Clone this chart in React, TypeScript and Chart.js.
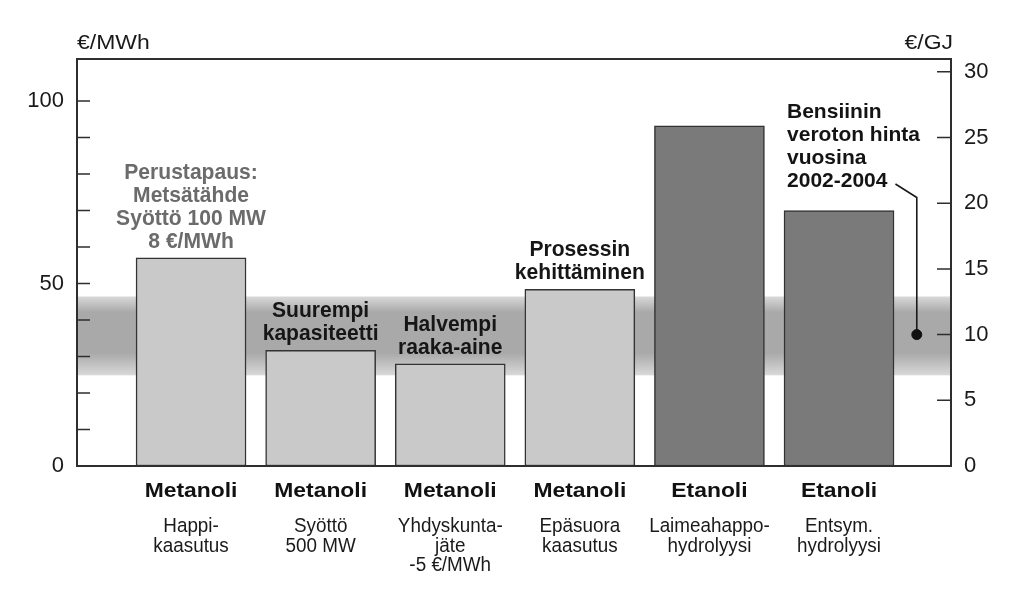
import { useEffect, useRef } from 'react';
import { Chart, registerables } from 'chart.js';

Chart.register(...registerables);

// ---- data ----
const fuels = ['Metanoli', 'Metanoli', 'Metanoli', 'Metanoli', 'Etanoli', 'Etanoli'];
const processes = [
  ['Happi-', 'kaasutus'],
  ['Syöttö', '500 MW'],
  ['Yhdyskunta-', 'jäte', '-5 €/MWh'],
  ['Epäsuora', 'kaasutus'],
  ['Laimeahappo-', 'hydrolyysi'],
  ['Entsym.', 'hydrolyysi'],
];
const costsMWh = [57, 31.7, 28, 48.4, 93.2, 70];
const barNotes = [
  ['Perustapaus:', 'Metsätähde', 'Syöttö 100 MW', '8 €/MWh'],
  ['Suurempi', 'kapasiteetti'],
  ['Halvempi', 'raaka-aine'],
  ['Prosessin', 'kehittäminen'],
  [],
  [],
];
const baseCaseIndex = 0;
const gasolineNote = ['Bensiinin', 'veroton hinta', 'vuosina', '2002-2004'];
const gasolinePriceGJ = 10;
const gasolineSlot = 5.6;
const gasolineBandGJ = [6.9, 12.9];
const gasolineCoreGJ = [8.6, 11.7];
const leftTickValues = [0, 10, 20, 30, 40, 50, 60, 70, 80, 90, 100];
const leftTickLabels = [0, 50, 100];
const rightTickValues = [0, 5, 10, 15, 20, 25, 30];
const leftMax = 111.5;
const mwhPerGJ = 3.6;
const leftTitle = '€/MWh';
const rightTitle = '€/GJ';

const FONT = '"Liberation Sans", Arial, Helvetica, sans-serif';

function drawText(
  ctx: CanvasRenderingContext2D,
  text: string,
  x: number,
  y: number,
  align: CanvasTextAlign,
  font: string,
  color: string,
  sx = 1
): number {
  ctx.save();
  ctx.font = font;
  ctx.fillStyle = color;
  ctx.textAlign = align;
  ctx.textBaseline = 'alphabetic';
  ctx.translate(x, y);
  ctx.scale(sx, 1);
  ctx.fillText(text, 0, 0);
  const w = ctx.measureText(text).width * sx;
  ctx.restore();
  return w;
}

const decorPlugin = {
  id: 'decor',
  beforeDatasetsDraw(chart: any) {
    const { ctx, chartArea: a, scales } = chart;
    const yR = scales.yR;
    const x = scales.x;
    const y = scales.y;
    // gasoline price band
    const top = yR.getPixelForValue(gasolineBandGJ[1]);
    const bot = yR.getPixelForValue(gasolineBandGJ[0]);
    const c1 = yR.getPixelForValue(gasolineCoreGJ[1]);
    const c2 = yR.getPixelForValue(gasolineCoreGJ[0]);
    const g = ctx.createLinearGradient(0, top, 0, bot);
    g.addColorStop(0, '#d9d9d9');
    g.addColorStop((c1 - top) / (bot - top), '#a9a9a9');
    g.addColorStop((c2 - top) / (bot - top), '#a9a9a9');
    g.addColorStop(1, '#d9d9d9');
    ctx.save();
    ctx.fillStyle = g;
    ctx.fillRect(a.left, top, a.right - a.left, bot - top);
    ctx.restore();

    // gasoline note text + leader line
    const last = fuels.length - 1;
    const barLeft = x.getPixelForValue(last) - 55;
    const lastBase = y.getPixelForValue(costsMWh[last]) - 23;
    const n = gasolineNote.length;
    let endX = barLeft;
    gasolineNote.forEach((t, k) => {
      const w = drawText(ctx, t, barLeft + 3, lastBase - (n - 1 - k) * 23.3, 'left', `bold 21px ${FONT}`, '#141414');
      if (k === n - 1) endX = barLeft + 3 + w;
    });
    const px = x.getPixelForValue(gasolineSlot);
    const py = yR.getPixelForValue(gasolinePriceGJ);
    ctx.save();
    ctx.strokeStyle = '#1a1a1a';
    ctx.lineWidth = 1.6;
    ctx.beginPath();
    ctx.moveTo(endX + 8, lastBase - 3.5);
    ctx.lineTo(px, lastBase + 10);
    ctx.lineTo(px, py);
    ctx.stroke();
    ctx.restore();
  },
  afterDatasetsDraw(chart: any) {
    const { ctx, chartArea: a, scales } = chart;
    const x = scales.x;
    const y = scales.y;
    const yR = scales.yR;
    ctx.save();
    ctx.strokeStyle = '#2e2e2e';
    ctx.lineWidth = 2;
    ctx.strokeRect(a.left, a.top, a.right - a.left, a.bottom - a.top);
    ctx.lineWidth = 1.5;
    ctx.beginPath();
    leftTickValues.forEach((v) => {
      const p = y.getPixelForValue(v);
      ctx.moveTo(a.left, p);
      ctx.lineTo(a.left + 13, p);
    });
    rightTickValues.forEach((v) => {
      const p = yR.getPixelForValue(v);
      ctx.moveTo(a.right - 14, p);
      ctx.lineTo(a.right, p);
    });
    ctx.stroke();
    ctx.restore();

    // axis titles
    drawText(ctx, leftTitle, a.left, a.top - 10, 'left', `20.5px ${FONT}`, '#1a1a1a', 1.12);
    drawText(ctx, rightTitle, a.right + 2, a.top - 10, 'right', `20.5px ${FONT}`, '#1a1a1a', 1.12);

    // notes above bars
    barNotes.forEach((lines, i) => {
      if (!lines.length) return;
      const cx = x.getPixelForValue(i);
      const base = y.getPixelForValue(costsMWh[i]) - 10;
      const color = i === baseCaseIndex ? '#6b6b6b' : '#161616';
      lines.forEach((t, k) => {
        drawText(ctx, t, cx, base - (lines.length - 1 - k) * 23, 'center', `bold 21.5px ${FONT}`, color, 0.98);
      });
    });

    // category labels
    fuels.forEach((f, i) => {
      const cx = x.getPixelForValue(i);
      drawText(ctx, f, cx, a.bottom + 31, 'center', `bold 21px ${FONT}`, '#111111', 1.09);
      processes[i].forEach((t, k) => {
        drawText(ctx, t, cx, a.bottom + 66 + k * 19.5, 'center', `20.5px ${FONT}`, '#1a1a1a', 0.92);
      });
    });
  },
};

export default function App() {
  const ref = useRef<HTMLCanvasElement | null>(null);

  useEffect(() => {
    if (!ref.current) return;
    const chart = new Chart(ref.current, {
      type: 'bar',
      data: {
        datasets: [
          {
            type: 'bar',
            data: costsMWh.map((v, i) => ({ x: i, y: v })),
            backgroundColor: fuels.map((f) => (f === 'Etanoli' ? '#7a7a7a' : '#c9c9c9')),
            borderColor: '#333333',
            borderWidth: 1.5,
            borderSkipped: false,
            barThickness: 110,
            xAxisID: 'x',
            yAxisID: 'y',
            order: 2,
          } as any,
          {
            type: 'scatter',
            data: [{ x: gasolineSlot, y: gasolinePriceGJ }],
            backgroundColor: '#111111',
            borderColor: '#111111',
            pointRadius: 5,
            xAxisID: 'x',
            yAxisID: 'yR',
            order: 1,
          } as any,
        ],
      },
      options: {
        responsive: false,
        animation: false,
        layout: { padding: { top: 59, left: 0, right: 0, bottom: 0 } },
        plugins: { legend: { display: false }, tooltip: { enabled: false } },
        scales: {
          x: {
            type: 'linear',
            min: -0.88,
            max: 5.864,
            offset: false,
            grid: { display: false },
            border: { display: false },
            ticks: { display: false },
            afterFit: (s: any) => {
              s.height = 123;
            },
          },
          y: {
            type: 'linear',
            position: 'left',
            min: 0,
            max: leftMax,
            grid: { display: false },
            border: { display: false },
            afterBuildTicks: (s: any) => {
              s.ticks = leftTickValues.map((v) => ({ value: v }));
            },
            ticks: {
              padding: 5,
              autoSkip: false,
              color: '#1a1a1a',
              font: { family: FONT, size: 22 },
              callback: (v: any) => (leftTickLabels.includes(Number(v)) ? String(v) : ''),
            },
            afterFit: (s: any) => {
              s.width = 77;
            },
          },
          yR: {
            type: 'linear',
            position: 'right',
            min: 0,
            max: leftMax / mwhPerGJ,
            grid: { display: false },
            border: { display: false },
            afterBuildTicks: (s: any) => {
              s.ticks = rightTickValues.map((v) => ({ value: v }));
            },
            ticks: {
              padding: 5,
              autoSkip: false,
              color: '#1a1a1a',
              font: { family: FONT, size: 22 },
              callback: (v: any) => String(v),
            },
            afterFit: (s: any) => {
              s.width = 73;
            },
          },
        },
      } as any,
      plugins: [decorPlugin],
    });
    return () => chart.destroy();
  }, []);

  return (
    <div style={{ position: 'absolute', left: 0, top: 0, width: 1024, height: 589, background: '#ffffff' }}>
      <canvas ref={ref} width={1024} height={589} style={{ display: 'block' }} />
    </div>
  );
}
